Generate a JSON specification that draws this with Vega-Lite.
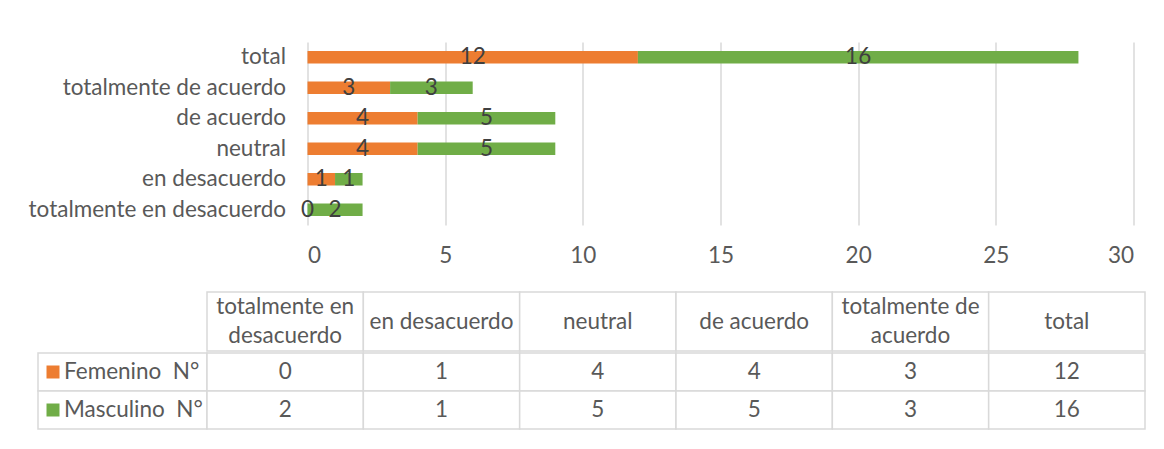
{
  "$schema": "https://vega.github.io/schema/vega-lite/v6.json",
  "padding": {"left": 17.5, "top": 42, "right": 0, "bottom": 0},
  "background": "white",
  "config": {"view": {"stroke": null}, "font": "Lato"},
  "datasets": {
    "respuestas": [
      {"categoria": "totalmente en desacuerdo", "serie": "Femenino \u00a0N°", "valor": 0},
      {"categoria": "totalmente en desacuerdo", "serie": "Masculino \u00a0N°", "valor": 2},
      {"categoria": "en desacuerdo", "serie": "Femenino \u00a0N°", "valor": 1},
      {"categoria": "en desacuerdo", "serie": "Masculino \u00a0N°", "valor": 1},
      {"categoria": "neutral", "serie": "Femenino \u00a0N°", "valor": 4},
      {"categoria": "neutral", "serie": "Masculino \u00a0N°", "valor": 5},
      {"categoria": "de acuerdo", "serie": "Femenino \u00a0N°", "valor": 4},
      {"categoria": "de acuerdo", "serie": "Masculino \u00a0N°", "valor": 5},
      {"categoria": "totalmente de acuerdo", "serie": "Femenino \u00a0N°", "valor": 3},
      {"categoria": "totalmente de acuerdo", "serie": "Masculino \u00a0N°", "valor": 3},
      {"categoria": "total", "serie": "Femenino \u00a0N°", "valor": 12},
      {"categoria": "total", "serie": "Masculino \u00a0N°", "valor": 16}
    ],
    "encabezados": [
      {"categoria": "totalmente en desacuerdo", "titulo": "totalmente en\ndesacuerdo"},
      {"categoria": "en desacuerdo", "titulo": "en desacuerdo"},
      {"categoria": "neutral", "titulo": "neutral"},
      {"categoria": "de acuerdo", "titulo": "de acuerdo"},
      {"categoria": "totalmente de acuerdo", "titulo": "totalmente de\nacuerdo"},
      {"categoria": "total", "titulo": "total"}
    ],
    "series": [
      {"serie": "Femenino \u00a0N°"},
      {"serie": "Masculino \u00a0N°"}
    ]
  },
  "spacing": 24,
  "vconcat": [
    {
      "data": {"name": "respuestas"},
      "width": 826,
      "height": 183,
      "encoding": {
        "y": {
          "field": "categoria",
          "type": "nominal",
          "sort": ["total", "totalmente de acuerdo", "de acuerdo", "neutral", "en desacuerdo", "totalmente en desacuerdo"],
          "scale": {"paddingInner": 0.59, "paddingOuter": 0.295},
          "axis": {"title": null, "ticks": false, "domain": false, "labelPadding": 22, "labelFontSize": 22.5, "labelColor": "#595959", "labelLimit": 500, "minExtent": 290}
        },
        "x": {
          "field": "valor",
          "type": "quantitative",
          "stack": "zero",
          "scale": {"domain": [0, 30], "nice": false},
          "axis": {"title": null, "values": [0, 5, 10, 15, 20, 25, 30], "grid": true, "gridColor": "#d9d9d9", "gridWidth": 1.5, "domain": false, "ticks": false, "labelPadding": 19, "labelFontSize": 22.5, "labelColor": "#595959"}
        }
      },
      "layer": [
        {
          "mark": {"type": "bar"},
          "encoding": {
            "color": {"field": "serie", "type": "nominal", "scale": {"domain": ["Femenino \u00a0N°", "Masculino \u00a0N°"], "range": ["#ED7D31", "#70AD47"]}, "legend": null}
          }
        },
        {
          "mark": {"type": "text", "fontSize": 22.5, "color": "#404040", "baseline": "middle"},
          "encoding": {
            "x": {"field": "valor", "type": "quantitative", "stack": "zero", "bandPosition": 0.5},
            "detail": {"field": "serie"},
            "text": {"field": "valor", "type": "quantitative"}
          }
        }
      ]
    },
    {
      "spacing": 0,
      "vconcat": [
        {
          "data": {"name": "encabezados"},
          "width": 838,
          "height": 59,
          "encoding": {
            "x": {
              "field": "categoria",
              "type": "nominal",
              "sort": ["totalmente en desacuerdo", "en desacuerdo", "neutral", "de acuerdo", "totalmente de acuerdo", "total"],
              "scale": {"range": [-100.5, 837.5], "paddingInner": 0, "paddingOuter": 0},
              "axis": null
            },
            "y": {
              "datum": "encabezado",
              "type": "nominal",
              "scale": {"paddingInner": 0, "paddingOuter": 0},
              "axis": null
            }
          },
          "layer": [
            {"mark": {"type": "rect", "fill": "white", "stroke": "#d9d9d9", "strokeWidth": 1.5}},
            {
              "transform": [{"filter": {"field": "categoria", "oneOf": ["totalmente en desacuerdo", "totalmente de acuerdo"]}}],
              "mark": {"type": "text", "lineBreak": "\n", "fontSize": 22.5, "color": "#595959", "lineHeight": 29, "dy": -14.5},
              "encoding": {"text": {"field": "titulo"}}
            },
            {
              "transform": [{"filter": {"field": "categoria", "oneOf": ["en desacuerdo", "neutral", "de acuerdo", "total"]}}],
              "mark": {"type": "text", "fontSize": 22.5, "color": "#595959"},
              "encoding": {"text": {"field": "titulo"}}
            }
          ]
        },
        {
          "width": 838,
          "height": 76,
          "resolve": {"scale": {"x": "independent"}},
          "layer": [
            {
              "data": {"name": "series"},
              "encoding": {
                "y": {
                  "field": "serie",
                  "type": "nominal",
                  "sort": ["Femenino \u00a0N°", "Masculino \u00a0N°"],
                  "scale": {"paddingInner": 0, "paddingOuter": 0},
                  "axis": null
                }
              },
              "layer": [
                {
                  "mark": {"type": "rect", "fill": "white", "stroke": "#d9d9d9", "strokeWidth": 1.5},
                  "encoding": {"x": {"datum": "leyenda", "type": "nominal", "scale": {"range": [-269.5, -100.5], "paddingInner": 0, "paddingOuter": 0}, "axis": null}}
                },
                {
                  "mark": {"type": "point", "shape": "square", "filled": true, "size": 169, "opacity": 1, "xOffset": 15},
                  "encoding": {
                    "x": {"datum": "leyenda", "type": "nominal", "bandPosition": 0, "axis": null},
                    "color": {"field": "serie", "type": "nominal", "scale": {"domain": ["Femenino \u00a0N°", "Masculino \u00a0N°"], "range": ["#ED7D31", "#70AD47"]}, "legend": null}
                  }
                },
                {
                  "mark": {"type": "text", "align": "left", "dx": 26, "fontSize": 22.5, "color": "#595959"},
                  "encoding": {
                    "x": {"datum": "leyenda", "type": "nominal", "bandPosition": 0, "axis": null},
                    "text": {"field": "serie"}
                  }
                }
              ]
            },
            {
              "data": {"name": "respuestas"},
              "encoding": {
                "x": {
                  "field": "categoria",
                  "type": "nominal",
                  "sort": ["totalmente en desacuerdo", "en desacuerdo", "neutral", "de acuerdo", "totalmente de acuerdo", "total"],
                  "scale": {"range": [-100.5, 837.5], "paddingInner": 0, "paddingOuter": 0},
                  "axis": null
                },
                "y": {"field": "serie", "type": "nominal", "sort": ["Femenino \u00a0N°", "Masculino \u00a0N°"]}
              },
              "layer": [
                {"mark": {"type": "rect", "fill": "white", "stroke": "#d9d9d9", "strokeWidth": 1.5}},
                {
                  "mark": {"type": "text", "fontSize": 22.5, "color": "#595959"},
                  "encoding": {"text": {"field": "valor", "type": "quantitative"}}
                }
              ]
            }
          ]
        }
      ]
    }
  ]
}
